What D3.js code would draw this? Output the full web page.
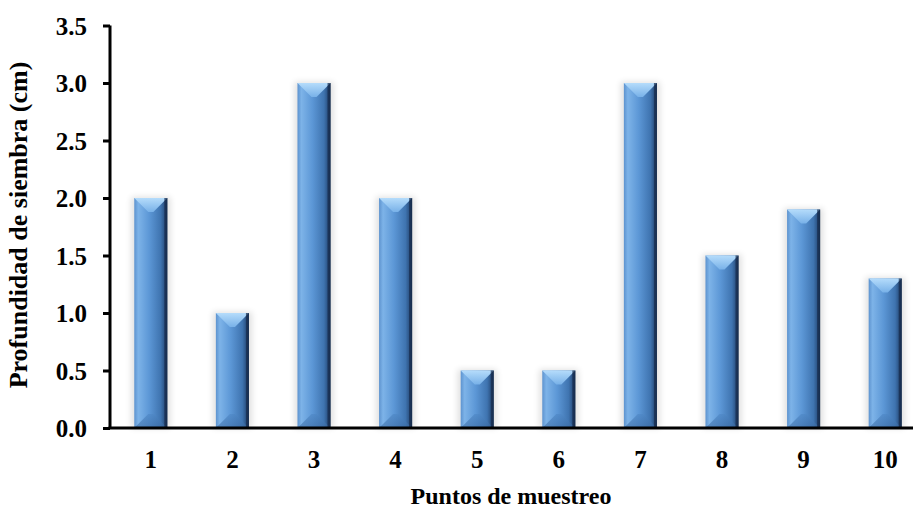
<!DOCTYPE html>
<html>
<head>
<meta charset="utf-8">
<script src="https://cdn.jsdelivr.net/npm/d3@7/dist/d3.min.js"></script>
<style>
  html, body { margin: 0; padding: 0; background: #fff; }
  svg { display: block; }
</style>
</head>
<body>
<svg id="chart" width="913" height="508"></svg>
<script>
// Sampling points and planting depth (cm)
const puntos = ["1", "2", "3", "4", "5", "6", "7", "8", "9", "10"];
const profundidad = [2.0, 1.0, 3.0, 2.0, 0.5, 0.5, 3.0, 1.5, 1.9, 1.3];
const yTicks = [0, 0.5, 1.0, 1.5, 2.0, 2.5, 3.0, 3.5];

const FONT = "'Liberation Serif', 'Times New Roman', 'DejaVu Serif', serif";
const svg = d3.select("#chart");
const mLeft = 110, mRight = 926, mTop = 25.5, mBottom = 428;

const x = d3.scaleBand().domain(puntos).range([mLeft, mRight]).paddingInner(0.595).paddingOuter(0.2975);
const y = d3.scaleLinear().domain([0, 3.5]).range([mBottom, mTop]);

const defs = svg.append("defs");
const body = defs.append("linearGradient").attr("id", "barBody").attr("x1", 0).attr("x2", 1).attr("y1", 0).attr("y2", 0);
[[0, "#5d93cf"], [0.12, "#7db3e8"], [0.45, "#5c97d6"], [0.8, "#3f74b0"], [0.92, "#2b5283"], [1, "#1c3556"]]
  .forEach(([o, c]) => body.append("stop").attr("offset", o).attr("stop-color", c));
const topG = defs.append("linearGradient").attr("id", "barTop").attr("x1", 0).attr("x2", 0).attr("y1", 0).attr("y2", 1);
[[0, "#b5dcfb"], [1, "#78b1e8"]].forEach(([o, c]) => topG.append("stop").attr("offset", o).attr("stop-color", c));
const botG = defs.append("linearGradient").attr("id", "barBot").attr("x1", 0).attr("x2", 0).attr("y1", 0).attr("y2", 1);
[[0, "#4d86c4"], [1, "#3a6aa3"]].forEach(([o, c]) => botG.append("stop").attr("offset", o).attr("stop-color", c));
const shadow = defs.append("filter").attr("id", "soft").attr("x", "-50%").attr("y", "-10%").attr("width", "200%").attr("height", "120%");
shadow.append("feGaussianBlur").attr("stdDeviation", 3);

const bars = svg.append("g").selectAll("g").data(puntos.map((p, i) => ({ p, v: profundidad[i] })))
  .join("g");

// soft halo behind each column
bars.append("rect")
  .attr("x", d => x(d.p) - 3).attr("y", d => y(d.v) - 1)
  .attr("width", x.bandwidth() + 6).attr("height", d => y(0) - y(d.v) + 1)
  .attr("fill", "#000").attr("opacity", 0.12).attr("filter", "url(#soft)");

bars.append("rect")
  .attr("x", d => x(d.p)).attr("y", d => y(d.v))
  .attr("width", x.bandwidth()).attr("height", d => y(0) - y(d.v))
  .attr("fill", "url(#barBody)");

const bev = 14;
// top bevel
bars.append("path").attr("fill", "url(#barTop)").attr("d", d => {
  const x0 = x(d.p), x1 = x0 + x.bandwidth(), y0 = y(d.v);
  return `M${x0},${y0}L${x1},${y0}L${x1 - bev},${y0 + bev}L${x0 + bev},${y0 + bev}Z`;
});
// bottom bevel
bars.append("path").attr("fill", "url(#barBot)").attr("opacity", 0.6).attr("d", d => {
  const x0 = x(d.p), x1 = x0 + x.bandwidth(), y0 = y(0);
  const b = Math.min(bev, (y(0) - y(d.v)) / 2);
  return `M${x0},${y0}L${x1},${y0}L${x1 - b},${y0 - b}L${x0 + b},${y0 - b}Z`;
});
// right dark edge
bars.append("rect")
  .attr("x", d => x(d.p) + x.bandwidth() - 3).attr("y", d => y(d.v))
  .attr("width", 3).attr("height", d => y(0) - y(d.v))
  .attr("fill", "#16294a").attr("opacity", 0.7);

// Axes
const yAxis = svg.append("g").attr("transform", `translate(${mLeft},0)`)
  .call(d3.axisLeft(y).tickValues(yTicks).tickFormat(d3.format(".1f")).tickSize(7).tickPadding(16));
yAxis.select(".domain").attr("stroke", "#000").attr("stroke-width", 3).attr("d", `M0,${mTop}V${mBottom}`);
yAxis.selectAll(".tick line").attr("stroke", "#000").attr("stroke-width", 3);
yAxis.selectAll(".tick text").attr("fill", "#000")
  .style("font-family", FONT).style("font-weight", "bold").style("font-size", "25px").attr("dy", "0.35em");

const xAxis = svg.append("g").attr("transform", `translate(0,${mBottom})`)
  .call(d3.axisBottom(x).tickSize(0).tickPadding(22));
xAxis.select(".domain").attr("stroke", "#000").attr("stroke-width", 3).attr("d", `M${mLeft - 1.5},0H${mRight}`);
xAxis.selectAll(".tick text").attr("fill", "#000")
  .style("font-family", FONT).style("font-weight", "bold").style("font-size", "25px");

svg.append("text").attr("x", 511).attr("y", 504).attr("text-anchor", "middle")
  .style("font-family", FONT).style("font-weight", "bold").style("font-size", "24px")
  .text("Puntos de muestreo");
svg.append("text").attr("transform", "translate(27,225) rotate(-90)").attr("text-anchor", "middle")
  .style("font-family", FONT).style("font-weight", "bold").style("font-size", "26px")
  .text("Profundidad de siembra (cm)");
</script>
</body>
</html>
